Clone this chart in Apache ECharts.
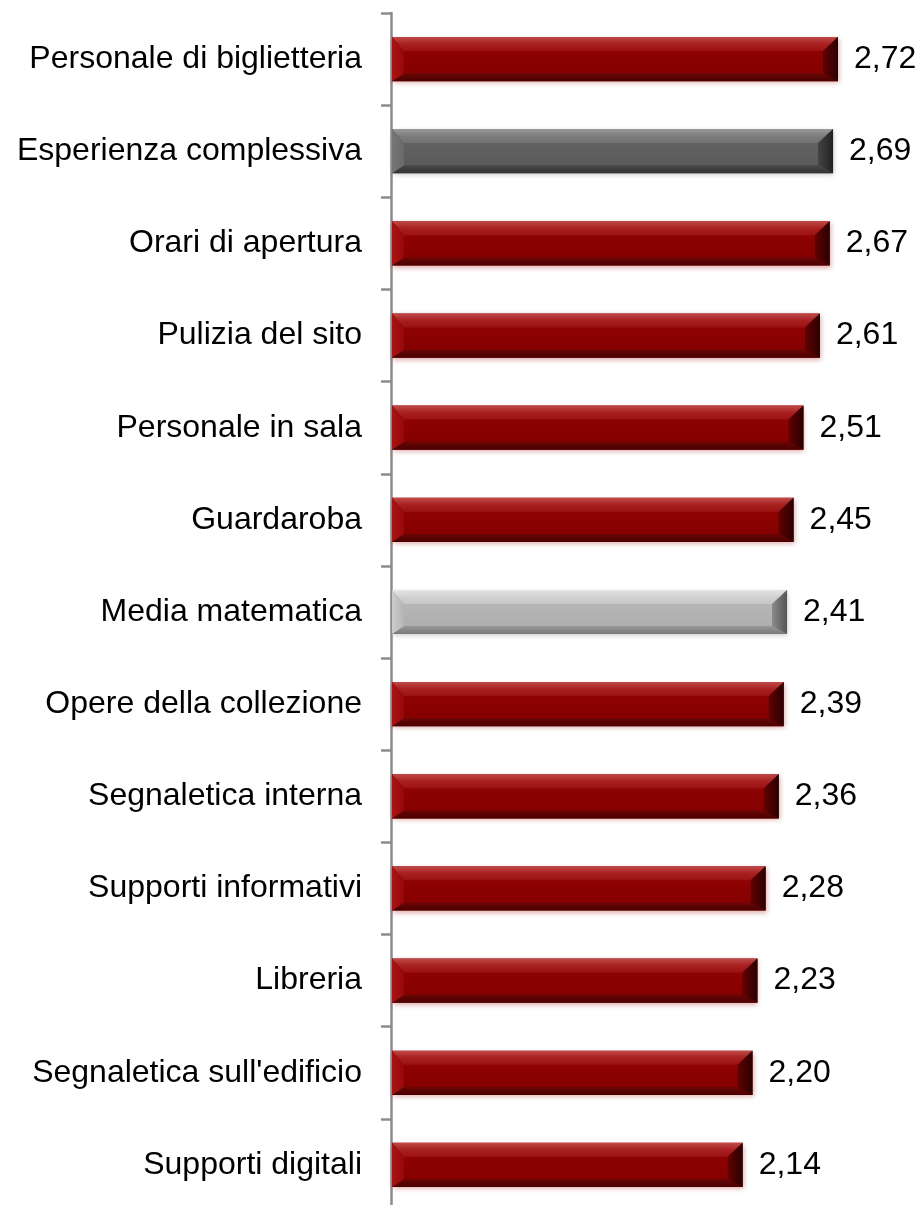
<!DOCTYPE html>
<html>
<head>
<meta charset="utf-8">
<script src="https://cdn.jsdelivr.net/npm/echarts@6/dist/echarts.min.js"></script>
<style>
  html, body { margin: 0; padding: 0; background: #fff; overflow: hidden; }
  #chart { width: 924px; height: 1215px; }
</style>
</head>
<body>
<div id="chart"></div>
<script>
// Satisfaction scores per service aspect
const categories = [
  'Personale di biglietteria',
  'Esperienza complessiva',
  'Orari di apertura',
  'Pulizia del sito',
  'Personale in sala',
  'Guardaroba',
  'Media matematica',
  'Opere della collezione',
  'Segnaletica interna',
  'Supporti informativi',
  'Libreria',
  "Segnaletica sull'edificio",
  'Supporti digitali'
];
const values = [2.72, 2.69, 2.67, 2.61, 2.51, 2.45, 2.41, 2.39, 2.36, 2.28, 2.23, 2.20, 2.14];

// Bevelled bar palettes
const palettes = {
  red: {
    top: ['#c04a4a', '#a82020', '#9c1212'],
    body: ['#8e0202', '#860000'],
    bottom: ['#6a0606', '#4a0000'],
    left: ['#a81414', '#980808'],
    right: ['#640000', '#2a0000'],
    shadow: 'rgba(160,20,20,0.35)'
  },
  dark: {
    top: ['#9a9a9a', '#7c7c7c', '#727272'],
    body: ['#626262', '#5a5a5a'],
    bottom: ['#484848', '#323232'],
    left: ['#767676', '#6a6a6a'],
    right: ['#444444', '#222222'],
    shadow: 'rgba(60,60,60,0.3)'
  },
  light: {
    top: ['#e6e6e6', '#d2d2d2', '#c6c6c6'],
    body: ['#b6b6b6', '#aeaeae'],
    bottom: ['#979797', '#787878'],
    left: ['#cccccc', '#b4b4b4'],
    right: ['#8a8a8a', '#555555'],
    shadow: 'rgba(90,90,90,0.3)'
  }
};
function paletteFor(name) {
  if (name === 'Esperienza complessiva') return palettes.dark;
  if (name === 'Media matematica') return palettes.light;
  return palettes.red;
}

const G = echarts.graphic;
function vGrad(stops) {
  return new G.LinearGradient(0, 0, 0, 1, stops.map((c, i) => ({ offset: i / (stops.length - 1), color: c })));
}
function hGrad(stops) {
  return new G.LinearGradient(0, 0, 1, 0, stops.map((c, i) => ({ offset: i / (stops.length - 1), color: c })));
}
function fmt(v) { return v.toFixed(2).replace('.', ','); }

const FONT = 'Arial, "Liberation Sans", sans-serif';

function renderItem(params, api) {
  const v = api.value(0);
  const idx = api.value(1);
  const p0 = api.coord([0, idx]);
  const p1 = api.coord([v, idx]);
  const h = api.size([0, 1])[1] * 0.48;
  const pal = paletteFor(categories[idx]);
  const x0 = p0[0] + 1, x1 = p1[0];
  const y0 = p0[1] - h / 2, y1 = p0[1] + h / 2;
  const t = 14, b = 8, l = 12, r = 15;
  return {
    type: 'group',
    children: [
      { type: 'rect', shape: { x: x0, y: y0, width: x1 - x0, height: h },
        style: { fill: pal.body[0], shadowBlur: 5, shadowColor: pal.shadow, shadowOffsetX: 1, shadowOffsetY: 2 } },
      { type: 'rect', shape: { x: x0 + l, y: y0 + t, width: x1 - x0 - l - r, height: h - t - b },
        style: { fill: vGrad(pal.body) } },
      { type: 'polygon', shape: { points: [[x0, y0], [x1, y0], [x1 - r, y0 + t], [x0 + l, y0 + t]] },
        style: { fill: vGrad(pal.top) } },
      { type: 'polygon', shape: { points: [[x0, y1], [x1, y1], [x1 - r, y1 - b], [x0 + l, y1 - b]] },
        style: { fill: vGrad(pal.bottom) } },
      { type: 'polygon', shape: { points: [[x0, y0], [x0 + l, y0 + t], [x0 + l, y1 - b], [x0, y1]] },
        style: { fill: hGrad(pal.left) } },
      { type: 'polygon', shape: { points: [[x1, y0], [x1 - r, y0 + t], [x1 - r, y1 - b], [x1, y1]] },
        style: { fill: hGrad(pal.right) } },
      { type: 'text',
        style: { text: fmt(v), x: x1 + 16, y: p0[1], align: 'left', verticalAlign: 'middle',
                 fontSize: 32, fontFamily: FONT, fill: '#000' } }
    ]
  };
}

const chart = echarts.init(document.getElementById('chart'), null, { renderer: 'canvas' });
chart.setOption({
  animation: false,
  backgroundColor: '#fff',
  grid: { left: 391, top: 13, width: 493, height: 1198, containLabel: false },
  xAxis: {
    type: 'value', min: 0, max: 3, show: false
  },
  yAxis: {
    type: 'category',
    data: categories,
    inverse: true,
    axisLine: { show: true, lineStyle: { color: '#8c8c8c', width: 2.5 } },
    axisTick: { show: true, length: 10, alignWithLabel: false, lineStyle: { color: '#8c8c8c', width: 2.5 } },
    axisLabel: { color: '#000', fontSize: 32, margin: 29, fontFamily: FONT },
    splitLine: { show: false }
  },
  series: [{
    type: 'custom',
    renderItem: renderItem,
    encode: { x: 0, y: 1 },
    clip: false,
    z: 3,
    data: values.map((v, i) => [v, i])
  }]
});
</script>
</body>
</html>
